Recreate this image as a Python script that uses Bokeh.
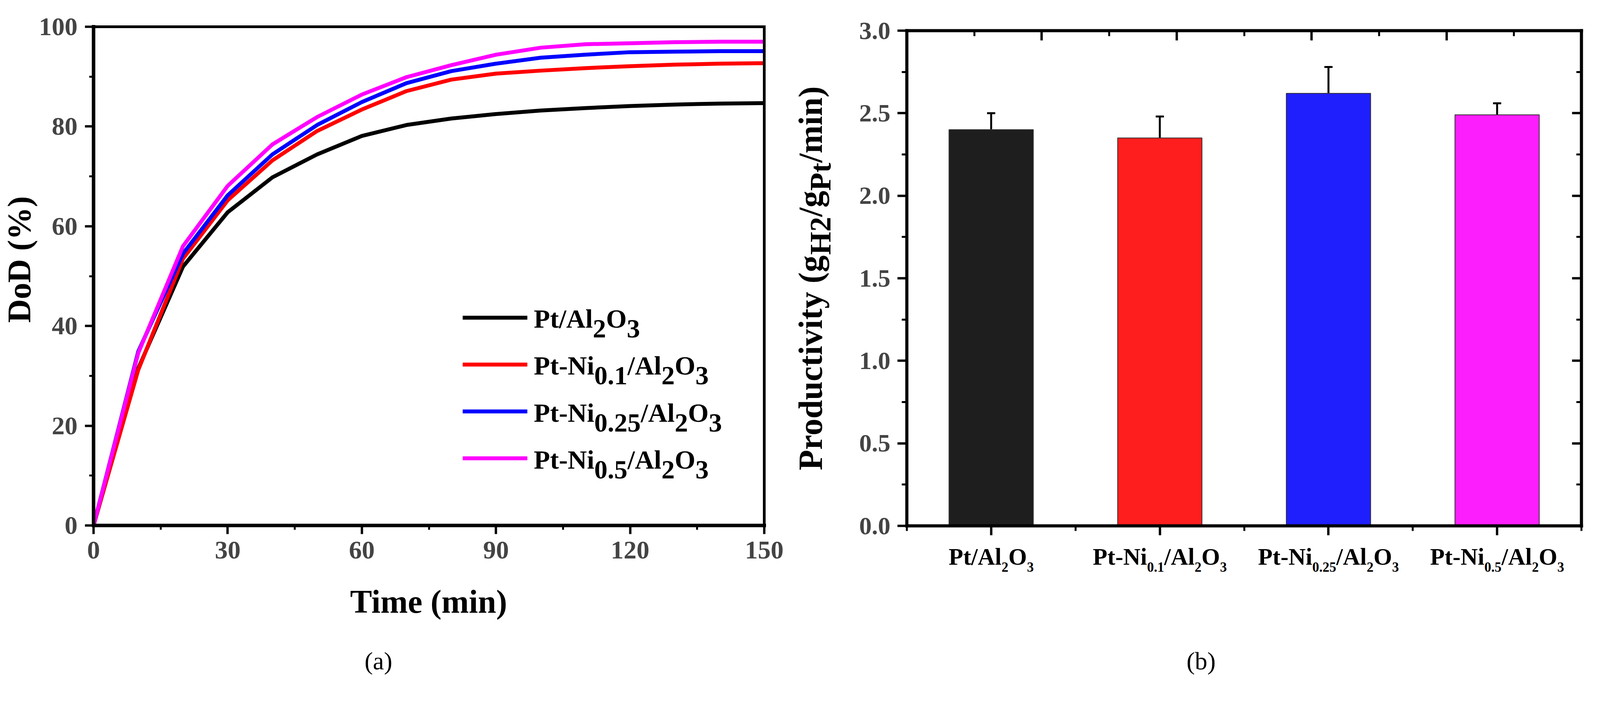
from math import pi

from bokeh.plotting import figure
from bokeh.layouts import row
from bokeh.models import (Range1d, SingleIntervalTicker, FixedTicker, LinearAxis, Label,
                          Legend, LegendItem, Whisker, TeeHead, ColumnDataSource,
                          NumeralTickFormatter)
from bokeh.embed import file_html
from bokeh.resources import INLINE

# ---- (a) DoD vs time ----
time_min = [0, 10, 20, 30, 40, 50, 60, 70, 80, 90, 100, 110, 120, 130, 140, 150]
dod_pt = [0, 31.5, 51.9, 62.8, 69.8, 74.4, 78.1, 80.3, 81.6, 82.5, 83.2, 83.7, 84.1, 84.4, 84.6, 84.7]
dod_ni01 = [0, 31.2, 53.5, 65.2, 73.2, 79.1, 83.4, 87.1, 89.4, 90.6, 91.2, 91.7, 92.1, 92.4, 92.6, 92.7]
dod_ni025 = [0, 34.9, 54.5, 66.2, 74.4, 80.3, 84.9, 88.7, 91.1, 92.6, 93.8, 94.4, 94.9, 95.0, 95.1, 95.1]
dod_ni05 = [0, 34.6, 56.0, 68.1, 76.4, 81.9, 86.4, 89.9, 92.3, 94.4, 95.8, 96.5, 96.7, 96.9, 97.0, 97.0]
t_max, dod_max = 150, 100

# ---- (b) productivity ----
catalysts = ["Pt/Al2O3", "Pt-Ni0.1/Al2O3", "Pt-Ni0.25/Al2O3", "Pt-Ni0.5/Al2O3"]
productivity = [2.40, 2.35, 2.62, 2.49]
productivity_err = [0.10, 0.13, 0.16, 0.07]
prod_max = 3.0

# same names split into (text, is_subscript) pieces
catalyst_parts = [
    [("Pt/Al", 0), ("2", 1), ("O", 0), ("3", 1)],
    [("Pt-Ni", 0), ("0.1", 1), ("/Al", 0), ("2", 1), ("O", 0), ("3", 1)],
    [("Pt-Ni", 0), ("0.25", 1), ("/Al", 0), ("2", 1), ("O", 0), ("3", 1)],
    [("Pt-Ni", 0), ("0.5", 1), ("/Al", 0), ("2", 1), ("O", 0), ("3", 1)],
]
line_colors = ["#000000", "#ff0000", "#0000ff", "#ff00ff"]
bar_colors = ["#1e1e1e", "#fe1e1e", "#1f1ffd", "#fd1efd"]

FONT = "Liberation Serif"
MID = 0.3375   # baseline -> middle of text box, in em

# Times bold advance widths (per 1000 em), for placing subscripts
W = {" ": 250, "(": 333, ")": 333, "%": 1000, "-": 333, ".": 250, "/": 278,
     "A": 722, "D": 722, "H": 778, "N": 722, "O": 778, "P": 611, "T": 667,
     "a": 500, "b": 556, "c": 444, "d": 556, "e": 444, "g": 500, "i": 278, "l": 278,
     "m": 833, "n": 556, "o": 500, "r": 444, "t": 333, "u": 556, "v": 500, "y": 500}


def text_w(txt, size):
    return sum(W.get(c, 500) for c in txt) * size / 1000.0


def rich(p, parts, x, y, dx, dy, size, sub_size=None, drop=0, angle=0.0, center=False,
         style="bold"):
    """Write text pieces (with subscripts) whose baseline starts at (dx, dy) px from (x, y)."""
    sub_size = sub_size or size
    total = sum(text_w(t, sub_size if s else size) for t, s in parts)
    pos = -total / 2 if center else 0
    for t, s in parts:
        fs = sub_size if s else size
        d = drop if s else 0
        if angle:
            xo, yo = dx + d - MID * fs, dy + pos
        else:
            xo, yo = dx + pos, dy - d + MID * fs
        p.add_layout(Label(x=x, y=y, x_offset=xo, y_offset=yo, text=t, angle=angle,
                           text_font=FONT, text_font_style=style,
                           text_font_size=f"{fs}px", text_color="black",
                           text_baseline="middle", text_align="left"))
        pos += text_w(t, fs)


def box_axis(ax, line_w, tick_out=0, minor_out=0, labels=False, font_size="66px", standoff=19):
    ax.axis_line_width = line_w
    ax.axis_line_cap = "square"
    ax.major_tick_line_width = 6
    ax.minor_tick_line_width = 5
    ax.major_tick_in = 0
    ax.minor_tick_in = 0
    ax.major_tick_out = tick_out
    ax.minor_tick_out = minor_out
    if tick_out == 0:
        ax.major_tick_line_color = None
        ax.minor_tick_line_color = None
    if labels:
        ax.major_label_text_font = FONT
        ax.major_label_text_font_style = "bold"
        ax.major_label_text_font_size = font_size
        ax.major_label_standoff = standoff
    else:
        ax.major_label_text_color = None
    return ax


H = 1750

# ================= (a) =================
W1 = 2017
L1, R1, T1, B1 = 239, 1956, 68, 1345          # plot box inside the canvas
sx1 = (R1 - L1) / t_max
sy1 = (B1 - T1) / dod_max

p1 = figure(width=W1, height=H,
            x_range=Range1d(-L1 / sx1, (W1 - L1) / sx1),
            y_range=Range1d(-(H - B1) / sy1, B1 / sy1),
            x_axis_location=None, y_axis_location=None,
            output_backend="svg", toolbar_location=None,
            min_border_left=0, min_border_right=0, min_border_top=0, min_border_bottom=0)
p1.outline_line_color = None
p1.xgrid.visible = False
p1.ygrid.visible = False

p1.add_layout(box_axis(LinearAxis(fixed_location=0, bounds=(0, dod_max),
                                  ticker=SingleIntervalTicker(interval=20, num_minor_ticks=2)),
                       9, 22, 11, labels=True, standoff=19), "left")
p1.add_layout(box_axis(LinearAxis(fixed_location=0, bounds=(0, t_max),
                                  ticker=SingleIntervalTicker(interval=30, num_minor_ticks=2)),
                       9, 22, 11, labels=True, standoff=19), "below")
p1.add_layout(box_axis(LinearAxis(fixed_location=dod_max, bounds=(0, t_max),
                                  ticker=FixedTicker(ticks=[])), 7), "below")
p1.add_layout(box_axis(LinearAxis(fixed_location=t_max, bounds=(0, dod_max),
                                  ticker=FixedTicker(ticks=[])), 7), "left")

series = [dod_pt, dod_ni01, dod_ni025, dod_ni05]
renderers = [p1.line(time_min, ys, line_color=c, line_width=10)
             for ys, c in zip(series, line_colors)]

legend = Legend(items=[LegendItem(label=" ", renderers=[r]) for r in renderers],
                location=(1184, 517), glyph_width=166, glyph_height=120, spacing=0,
                padding=0, margin=0, label_standoff=0, label_width=0, label_height=120,
                label_text_font_size="1px", background_fill_alpha=0,
                border_line_color=None)
p1.add_layout(legend)

for i, parts in enumerate(catalyst_parts):
    rich(p1, parts, 0, 0, 1127, 507 - i * 120.6, 68, 68, 26)

rich(p1, [("Time (min)", 0)], 0, 0, (R1 - L1) / 2, -223, 84, center=True)
rich(p1, [("DoD (%)", 0)], 0, 0, -162, 681, 84, angle=pi / 2, center=True)
rich(p1, [("(a)", 0)], 0, 0, 731, -369, 64, center=True, style="normal")

# ================= (b) =================
W2 = 2088
L2, R2, T2, B2 = 304, 2031, 78, 1346
n = len(catalysts)
sx2 = (R2 - L2) / n
sy2 = (B2 - T2) / prod_max

centers = [i + 0.5 for i in range(n)]
src = ColumnDataSource(dict(
    x=centers, top=productivity, color=bar_colors,
    upper=[v + e for v, e in zip(productivity, productivity_err)],
    lower=[v - e for v, e in zip(productivity, productivity_err)],
))

p2 = figure(width=W2, height=H,
            x_range=Range1d(-L2 / sx2, (W2 - L2) / sx2),
            y_range=Range1d(-(H - B2) / sy2, B2 / sy2),
            x_axis_location=None, y_axis_location=None,
            output_backend="svg", toolbar_location=None,
            min_border_left=0, min_border_right=0, min_border_top=0, min_border_bottom=0)
p2.outline_line_color = None
p2.xgrid.visible = False
p2.ygrid.visible = False

p2.vbar(x="x", top="top", width=0.5, fill_color="color", line_color="#333333",
        line_width=2, source=src)
p2.add_layout(Whisker(source=src, base="x", upper="upper", lower="lower",
                      line_color="black", line_width=5,
                      upper_head=TeeHead(size=21, line_width=5, line_color="black"),
                      lower_head=TeeHead(size=21, line_width=5, line_color="black")))

yax2 = box_axis(LinearAxis(fixed_location=0, bounds=(0, prod_max),
                           ticker=SingleIntervalTicker(interval=0.5, num_minor_ticks=2),
                           formatter=NumeralTickFormatter(format="0.0")),
                8, 24, 13, labels=True, font_size="64px", standoff=18)
p2.add_layout(yax2, "left")
p2.add_layout(box_axis(LinearAxis(fixed_location=0, bounds=(0, n),
                                  ticker=FixedTicker(ticks=centers,
                                                     minor_ticks=list(range(n + 1)))),
                       8, 24, 13), "below")
# top and right frame edges carry inward ticks
p2.add_layout(box_axis(LinearAxis(fixed_location=prod_max, bounds=(0, n),
                                  ticker=FixedTicker(ticks=[0.8, 1.6, 2.4, 3.2],
                                                     minor_ticks=[0.4, 1.2, 2.0, 2.8, 3.6])),
                       8, 25, 14), "below")
p2.add_layout(box_axis(LinearAxis(fixed_location=n, bounds=(0, prod_max),
                                  ticker=SingleIntervalTicker(interval=0.5, num_minor_ticks=2)),
                       8, 24, 13), "left")

# category labels with subscripts
for cx, parts in zip(centers, catalyst_parts):
    rich(p2, parts, cx, 0, 0, -100, 61, 35, 17.5, center=True)

# y title
rich(p2, [("Productivity (g", 0), ("H2", 1), ("/g", 0), ("Pt", 1), ("/min)", 0)],
     0, 0, -217, (B2 - T2) / 2, 86, 76, 21, angle=pi / 2, center=True)

rich(p2, [("(b)", 0)], 0, 0, 755, -368, 64, center=True, style="normal")

layout = row(p1, p2)
open("out.html", "w").write(file_html(layout, INLINE))
